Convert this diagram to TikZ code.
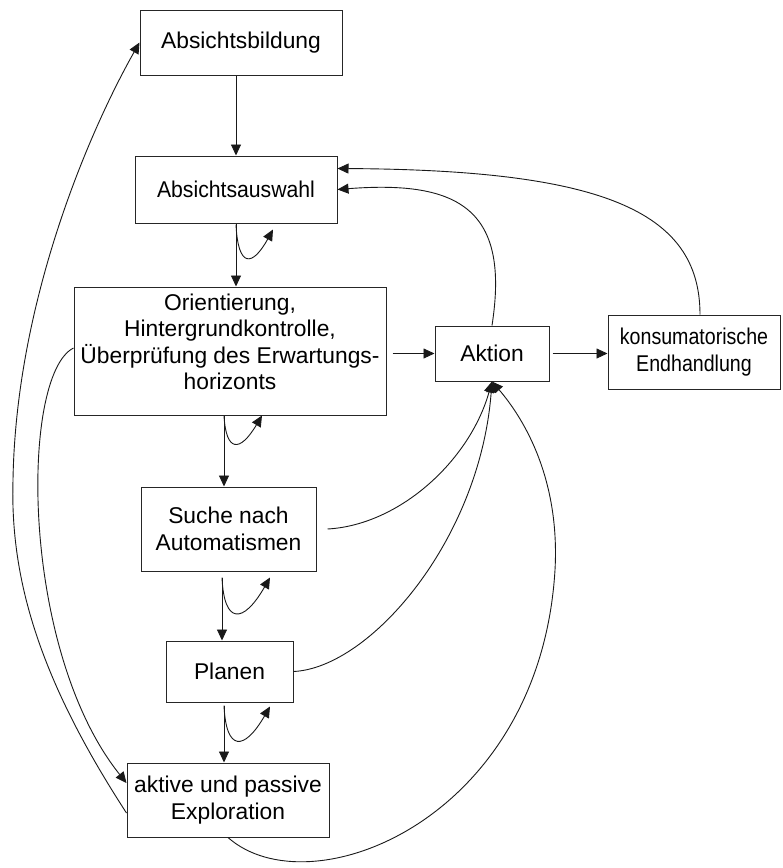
\documentclass[tikz,border=0pt]{standalone}
\usepackage{fontspec}
\setmainfont{Liberation Sans}
\usetikzlibrary{arrows.meta,calc}
\begin{document}
\begin{tikzpicture}[x=1pt,y=-1pt,
  box/.style={draw=black!85, line width=1pt, rectangle, inner sep=0pt, align=center,
              font=\fontsize{22.8}{26.5}\selectfont},
  lbl/.style={align=center, inner sep=0pt, font=\fontsize{22.8}{26.5}\selectfont},
  arr/.style={draw=black!90, line width=0.9pt, -{Triangle[length=11pt,width=10pt]}}]
\useasboundingbox (0,0) rectangle (783,868);

% boxes of the main column
\node[box, minimum width=202pt, minimum height=65pt] (bild) at (241,42.5) {Absichtsbildung};
\node[box, minimum width=202pt, minimum height=67pt] (ausw) at (236,189.5) {\scalebox{0.93}[1]{Absichtsauswahl}};
\node[box, minimum width=312pt, minimum height=128pt] (ori) at (230,351) {};
\node[lbl] (oritxt) at ([yshift=9pt]ori.center) {Orientierung,\\Hintergrundkontrolle,\\Überprüfung des Erwartungs-\\horizonts};
\node[box, minimum width=175pt, minimum height=84pt] (such) at (228.5,529) {Suche nach\\Automatismen};
\node[box, minimum width=127pt, minimum height=61pt] (plan) at (229.5,671.5) {Planen};
\node[box, minimum width=202pt, minimum height=74pt] (expl) at (228,800) {aktive und passive\\Exploration};

% boxes on the right
\node[box, minimum width=114pt, minimum height=55pt] (akt) at (492,353.5) {Aktion};
\node[box, minimum width=172pt, minimum height=74pt] (kons) at (694,352)
  {\scalebox{0.86}[1]{konsumatorische}\\\scalebox{0.86}[1]{Endhandlung}};

% straight downward arrows
\draw[arr] (ausw.north |- bild.south) -- (ausw.north);
\draw[arr] (ausw.south) -- (ausw.south |- ori.north);
\coordinate (o1) at ($(ori.south)+(-6,0)$);
\draw[arr] (o1) -- (o1 |- such.north);
\coordinate (s1) at ($(such.south)+(-6.5,6)$);
\draw[arr] (s1) -- (s1 |- plan.north);
\coordinate (p1) at ($(plan.south)+(-5.5,3)$);
\draw[arr] (p1) -- (p1 |- expl.north);

% small return loops below the boxes
\coordinate (a1) at ($(ausw.south)+(0,1)$);
\draw[arr] (a1) .. controls ($(a1)+(2,43)$) and ($(a1)+(16,43)$) .. ($(a1)+(37,5)$);
\draw[arr] (o1) .. controls ($(o1)+(2,37)$) and ($(o1)+(16,37)$) .. ($(o1)+(38,0)$);
\draw[arr] (s1) .. controls ($(s1)+(2,47)$) and ($(s1)+(21,47)$) .. ($(s1)+(48,0)$);
\draw[arr] (p1) .. controls ($(p1)+(2,46)$) and ($(p1)+(20,46)$) .. ($(p1)+(46,1)$);

% horizontal arrows
\coordinate (oe) at ([xshift=6pt]ori.east);
\draw[arr] (oe |- akt.west) -- (akt.west);
\draw[arr] ([xshift=3pt]akt.east) -- (akt.east -| kons.west);

% feedback into Aktion
\draw[arr] ($(such.east)+(11,0)$) .. controls (400,525) and (470,460) .. (akt.south);
\draw[arr] (plan.east) .. controls (370,668) and (480,540) .. (akt.south);
\draw[arr] (expl.south) .. controls (310,910) and (540,820) .. (555,570)
                        .. controls (560,480) and (525,420) .. (akt.south);

% returns to Absichtsauswahl
\draw[arr] (akt.north) .. controls (510,210) and (460,180) .. (ausw.east);
\draw[arr] ([xshift=6pt]kons.north) .. controls (700,210) and (600,170) .. ([yshift=21pt]ausw.east);

% long arcs on the left
\draw[arr] ([yshift=3pt]ori.west) .. controls (20,375) and (20,650) .. ([yshift=17pt]expl.west);
\draw[arr] ([yshift=-13pt]expl.west) .. controls (40,680) and (10,580) .. (13,480)
                                     .. controls (16,300) and (90,130) .. (bild.west);
\end{tikzpicture}
\end{document}
